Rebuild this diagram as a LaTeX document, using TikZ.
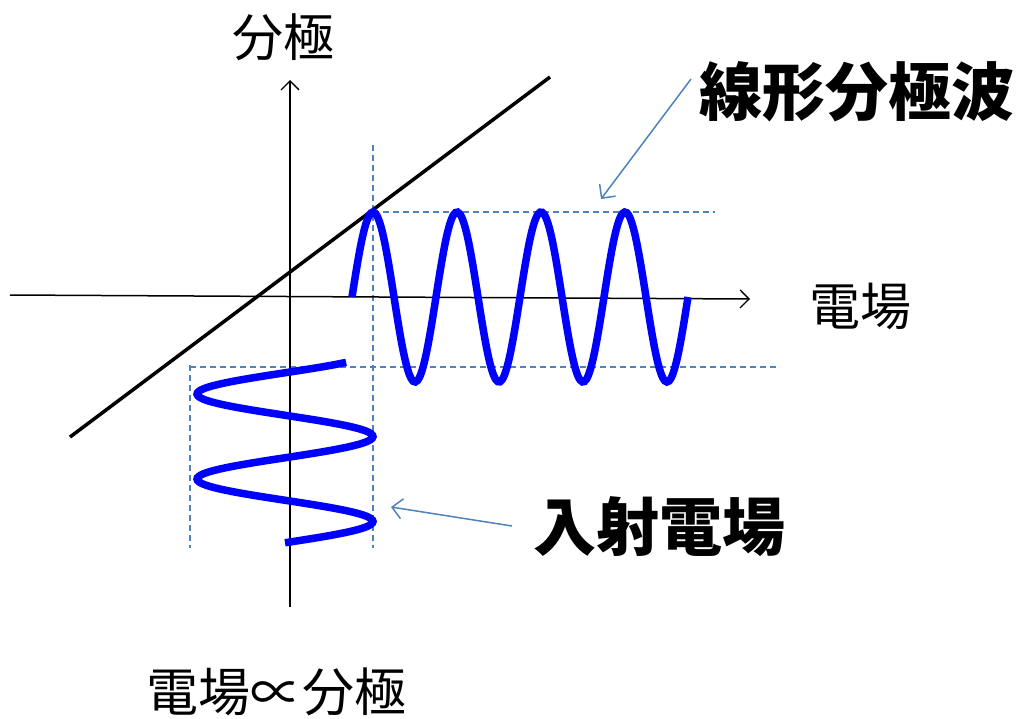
\documentclass[tikz,border=0pt]{standalone}
\usepackage{fontspec}
\setmainfont{Noto Sans CJK JP}
\usetikzlibrary{arrows.meta}
\definecolor{guide}{HTML}{4F81BD}
\definecolor{wave}{HTML}{0000FF}
\begin{document}
\begin{tikzpicture}[x=1pt,y=-1pt,
  axis/.style={black,line width=1.5pt,-{Straight Barb[length=9pt,width=18pt,line width=1.3pt]}},
  guideline/.style={guide,line width=1.2pt,dash pattern=on 6pt off 4pt},
  wavepath/.style={wave,line width=7.5pt},
  pointer/.style={guide,line width=1.5pt,-{Straight Barb[length=10pt,width=20pt,line width=1.5pt]}},
  lbl/.style={inner sep=0pt,font=\fontsize{51}{60}\selectfont},
  biglbl/.style={inner sep=0pt,font=\fontsize{63}{72}\selectfont\bfseries}]
\useasboundingbox (0,0) rectangle (1020,718);

% named points
\coordinate (xs) at (10,295);
\coordinate (xe) at (750,299);
\coordinate (ys) at (290,607);
\coordinate (ye) at (290,80);
\coordinate (ds) at (70,437);
\coordinate (de) at (550,77);
\coordinate (v1s) at (373,145);
\coordinate (v1e) at (373,548);
\coordinate (v2s) at (190,365);
\coordinate (v2e) at (190,548);
\coordinate (h1s) at (373,212);
\coordinate (h1e) at (715,212);
\coordinate (h2s) at (190,367);
\coordinate (h2e) at (780,367);
\coordinate (p1s) at (691,79);
\coordinate (p1e) at (601,199);
\coordinate (p2s) at (512,526);
\coordinate (p2e) at (391,507);

% labels
\node[lbl] (pol) at (283,37) {分極};
\node[lbl] (fld) at (860,306) {電場};
\node[lbl,font=\fontsize{52}{60}\selectfont] (rel) at (276,692) {電場∝分極};
\node[biglbl] (lin) at (857,92) {線形分極波};
\node[biglbl] (inc) at (659,527) {入射電場};

% guides
\draw[guideline] (v1s) -- (v1e);
\draw[guideline] (v2s) -- (v2e);
\draw[guideline] (h1s) -- (h1e);
\draw[guideline] (h2s) -- (h2e);

% axes
\draw[axis] (xs) -- (xe);
\draw[axis] (ys) -- (ye);

% response line
\draw[black,line width=3.5pt] (ds) -- (de);

% output wave
\draw[wavepath] plot[smooth,samples=160,domain=0:1440]
  ({352+\x/360*84},{297-85*sin(\x)});
% input wave
\draw[wavepath] plot[smooth,samples=120,domain=-44:720]
  ({285-88*sin(\x)},{394+(\x-90)/360*85});

% pointers
\draw[pointer] (p1s) -- (p1e);
\draw[pointer] (p2s) -- (p2e);
\end{tikzpicture}
\end{document}
